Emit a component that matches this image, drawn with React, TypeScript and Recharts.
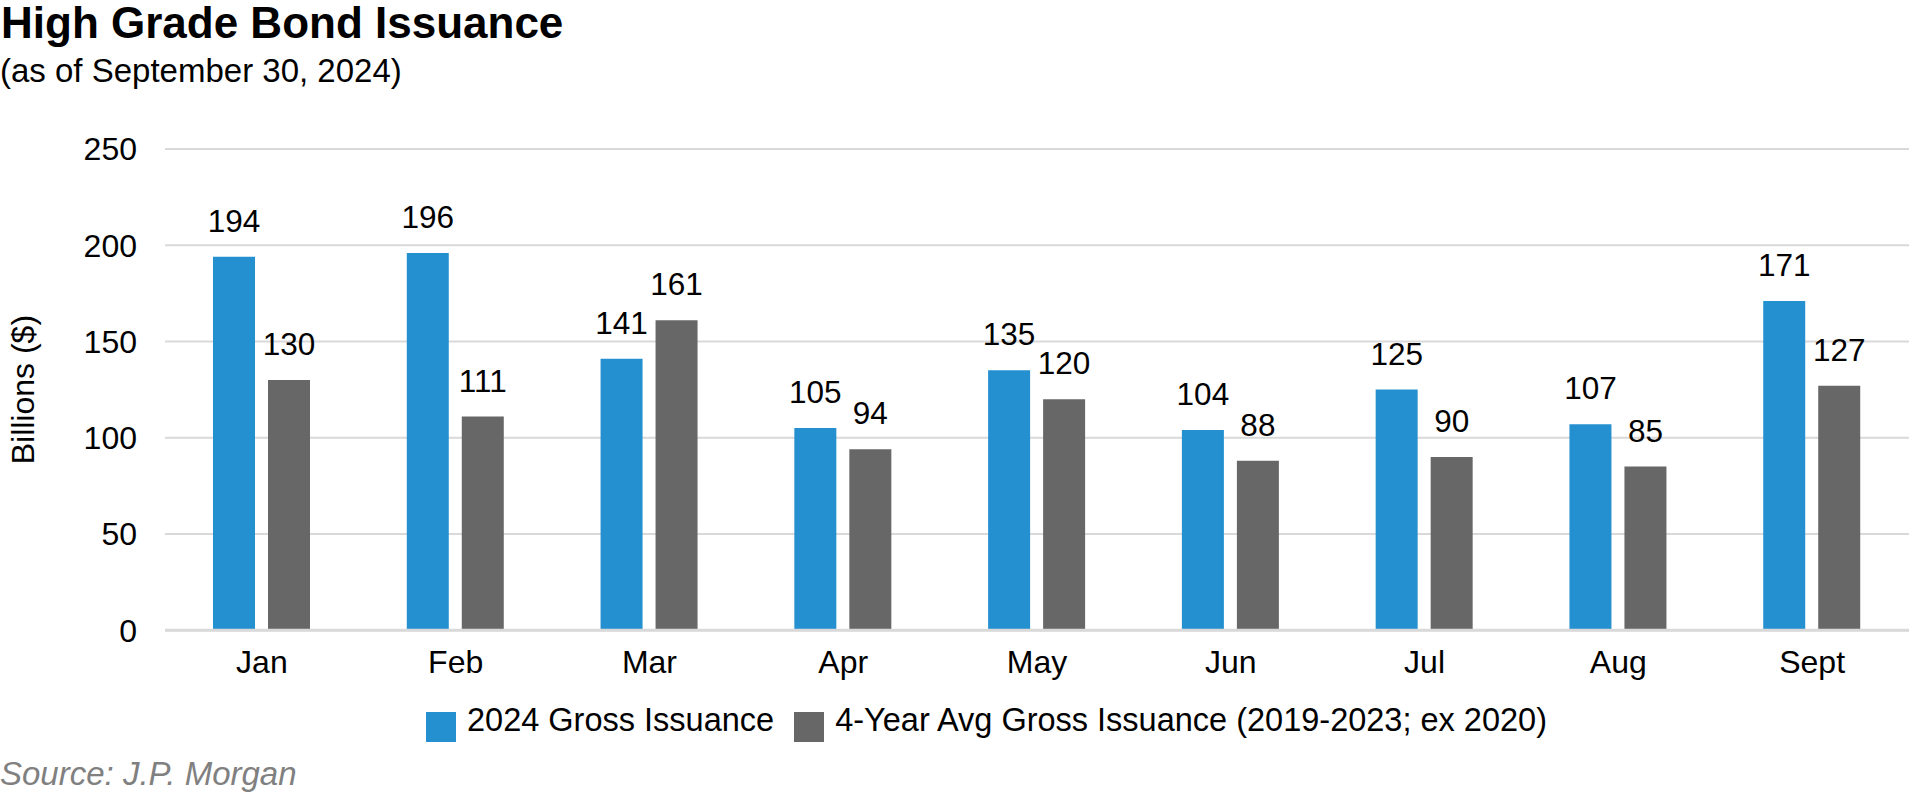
import { BarChart, Bar, XAxis, YAxis, CartesianGrid, Legend, LabelList } from 'recharts';

const months = ['Jan', 'Feb', 'Mar', 'Apr', 'May', 'Jun', 'Jul', 'Aug', 'Sept'];
const gross2024 = [194, 196, 141, 105, 135, 104, 125, 107, 171];
const avg4Year = [130, 111, 161, 94, 120, 88, 90, 85, 127];
const yTicks = [0, 50, 100, 150, 200, 250];

const data = months.map((m, i) => ({
  month: m,
  gross: gross2024[i],
  avg: avg4Year[i],
}));

const FONT = '"Liberation Sans", Arial, sans-serif';
const BLUE = '#2490d0';
const GRAY = '#666766';

export default function App() {
  return (
    <div style={{ position: 'absolute', left: 0, top: 0, width: 1913, height: 795, fontFamily: FONT, background: '#fff' }}>
      <div style={{ position: 'absolute', left: 1, top: 0, fontSize: 44, fontWeight: 700, lineHeight: '46px', color: '#000' }}>
        High Grade Bond Issuance
      </div>
      <div style={{ position: 'absolute', left: 0, top: 52, fontSize: 33, lineHeight: '38px', color: '#000' }}>
        (as of September 30, 2024)
      </div>

      <BarChart
        width={1913}
        height={795}
        data={data}
        margin={{ top: 149, right: 4, left: 0, bottom: 75 }}
        barGap={13}
        barSize={42}
      >
        <CartesianGrid vertical={false} stroke="#d9d9d9" strokeWidth={2} />
        <XAxis
          dataKey="month"
          tickLine={false}
          axisLine={{ stroke: '#d9d9d9', strokeWidth: 3 }}
          tick={{ fill: '#000', fontSize: 32, fontFamily: FONT }}
          tickMargin={14}
          height={50}
        />
        <YAxis
          domain={[0, 250]}
          ticks={yTicks}
          width={165}
          tickLine={false}
          axisLine={false}
          tickMargin={22}
          tick={{ fill: '#000', fontSize: 32, fontFamily: FONT }}
          label={{
            value: 'Billions ($)',
            angle: -90,
            position: 'insideLeft',
            offset: 23,
            style: { textAnchor: 'middle', fill: '#000', fontSize: 32, fontFamily: FONT },
          }}
        />
        <Legend
          verticalAlign="bottom"
          iconType="square"
          iconSize={30}
          wrapperStyle={{ left: 40, width: 1913, top: 702 }}
          formatter={(value) => (
            <span style={{ color: '#000', fontSize: 32.5, fontFamily: FONT, marginLeft: 7, marginRight: 10 }}>{value}</span>
          )}
        />
        <Bar dataKey="gross" name="2024 Gross Issuance" fill={BLUE} isAnimationActive={false}>
          <LabelList dataKey="gross" position="top" offset={25} fill="#000" fontSize={31.5} fontFamily={FONT} />
        </Bar>
        <Bar dataKey="avg" name="4-Year Avg Gross Issuance (2019-2023; ex 2020)" fill={GRAY} isAnimationActive={false}>
          <LabelList dataKey="avg" position="top" offset={25} fill="#000" fontSize={31.5} fontFamily={FONT} />
        </Bar>
      </BarChart>

      <div style={{ position: 'absolute', left: 0, top: 755, fontSize: 33, lineHeight: '38px', fontStyle: 'italic', color: '#808080' }}>
        Source: J.P. Morgan
      </div>
    </div>
  );
}
